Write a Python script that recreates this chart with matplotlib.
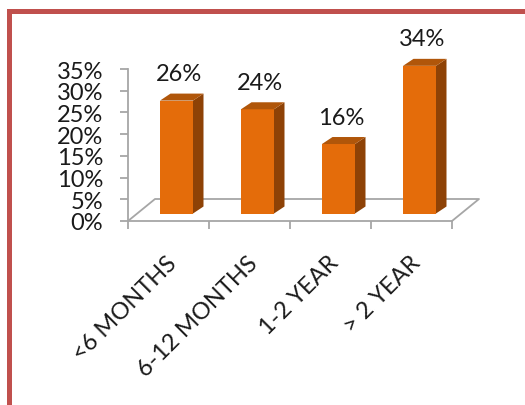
import matplotlib
matplotlib.use("Agg")
import matplotlib.pyplot as plt
from matplotlib.patches import Polygon, Rectangle
import numpy as np

categories = ["<6 MONTHS", "6-12 MONTHS", "1-2 YEAR", "> 2 YEAR"]
values = [26, 24, 16, 34]          # percent
y_ticks = [0, 5, 10, 15, 20, 25, 30, 35]

FRONT = "#E46C0A"
SIDE = "#8E4206"
TOP = "#B0560A"
GRID = "#A6A6A6"
TXT = "#1A1A1A"
FONT = "Lato"
FS = 17

W, H, DPI = 525, 406, 100
fig = plt.figure(figsize=(W / DPI, H / DPI), dpi=DPI)
fig.patch.set_facecolor("white")

# red frame (runs off the right and bottom edge)
fig.patches.append(Rectangle((8.5 / W, -0.1), 1.2, (H - 11.5) / H + 0.1,
                             transform=fig.transFigure, fill=False,
                             edgecolor="#C0504D", linewidth=3.6))

# plot area in pixel terms
x0, x1, y0, y1 = 128, 452, 222, 70
ax = fig.add_axes([x0 / W, (H - y0) / H, (x1 - x0) / W, (y0 - y1) / H])
ax.set_xlim(-0.5, len(values) - 0.5)
ax.set_ylim(0, 35)

px_x = (len(values)) / (x1 - x0)   # data units per pixel, x
px_y = 35 / (y0 - y1)              # data units per pixel, y

# floor (3d depth)
fdx, fdy = 27 * px_x, 22 * px_y
xa, xb = -0.5, len(values) - 0.5
ax.plot([xa, xa + fdx, xb + fdx, xb], [0, fdy, fdy, 0], color=GRID,
        lw=1.3, clip_on=False, zorder=1)

# bars: front face, right side and top
bdx, bdy = 8 * px_x, 7.5 * px_y     # bar placement inside the depth
sdx, sdy = 10.5 * px_x, 7 * px_y    # bar depth
w = 33 * px_x
xs = np.arange(len(values)) + bdx
ax.bar(xs, values, width=w, bottom=bdy, color=FRONT, zorder=3,
       clip_on=False)
for x, v in zip(xs, values):
    l, r = x - w / 2, x + w / 2
    b, t = bdy, bdy + v
    ax.add_patch(Polygon([(r, b), (r + sdx, b + sdy), (r + sdx, t + sdy), (r, t)],
                         closed=True, facecolor=SIDE, edgecolor="none",
                         zorder=3, clip_on=False))
    ax.add_patch(Polygon([(l, t), (r, t), (r + sdx, t + sdy), (l + sdx, t + sdy)],
                         closed=True, facecolor=TOP, edgecolor="none",
                         zorder=3, clip_on=False))
    ax.text(x + 0.03, t + 27 * px_y, f"{v}%", ha="center", va="center",
            fontsize=FS, family=FONT, color=TXT, zorder=4)

# axes styling
for s in ["top", "right"]:
    ax.spines[s].set_visible(False)
for s in ["left", "bottom"]:
    ax.spines[s].set_color(GRID)
    ax.spines[s].set_linewidth(1.3)
ax.set_yticks(y_ticks)
ax.set_yticklabels([f"{t}%" for t in y_ticks], family=FONT, fontsize=FS,
                   color=TXT)
ax.set_xticks(np.arange(len(values) + 1) - 0.5)
ax.set_xticklabels([])
ax.tick_params(axis="both", direction="out", length=5.8, width=1.3,
               color=GRID)
ax.tick_params(axis="y", pad=12)
ax.patch.set_alpha(0)

# rotated category labels
for i, c in enumerate(categories):
    ax.text(i + 5 * px_x, -38 * px_y, c, rotation=45, rotation_mode="anchor",
            ha="right", va="center", fontsize=FS, family=FONT,
            color=TXT, clip_on=False)

fig.savefig("out.png", dpi=DPI)
